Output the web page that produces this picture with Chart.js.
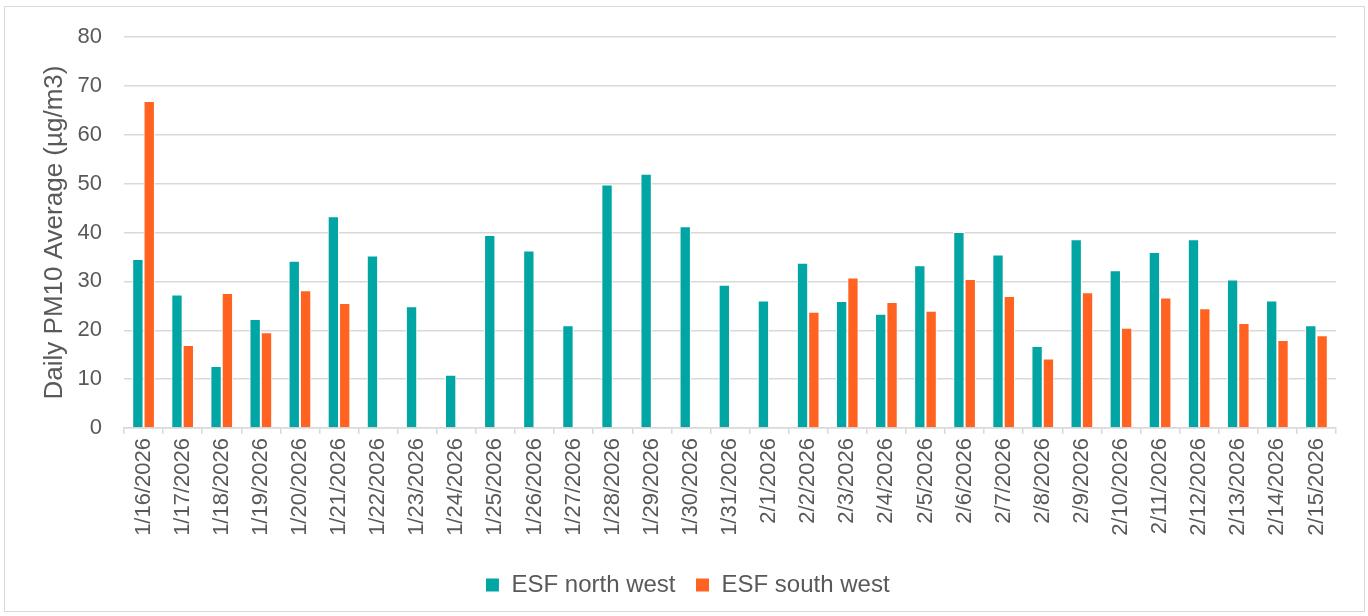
<!DOCTYPE html>
<html>
<head>
<meta charset="utf-8">
<script src="https://cdn.jsdelivr.net/npm/chart.js@4/dist/chart.umd.min.js"></script>
<style>
    body { margin: 0; background: #fff; }
    #wrap {
        position: absolute; left: 4px; top: 6px;
        width: 1359px; height: 604px;
        border: 1px solid #d9d9d9;
    }
</style>
</head>
<body>
<div id="wrap"><canvas id="pmChart" width="1359" height="604"></canvas></div>
<script>
const dates = ['1/16/2026', '1/17/2026', '1/18/2026', '1/19/2026', '1/20/2026', '1/21/2026', '1/22/2026',
    '1/23/2026', '1/24/2026', '1/25/2026', '1/26/2026', '1/27/2026', '1/28/2026', '1/29/2026', '1/30/2026',
    '1/31/2026', '2/1/2026', '2/2/2026', '2/3/2026', '2/4/2026', '2/5/2026', '2/6/2026', '2/7/2026',
    '2/8/2026', '2/9/2026', '2/10/2026', '2/11/2026', '2/12/2026', '2/13/2026', '2/14/2026', '2/15/2026'];

const northWest = [34.6, 27.3, 12.7, 22.3, 34.2, 43.3, 35.3, 24.9, 10.9, 39.5, 36.3, 21.0, 49.8, 52.0, 41.3,
    29.3, 26.1, 33.8, 26.0, 23.4, 33.3, 40.1, 35.5, 16.8, 38.6, 32.3, 36.0, 38.6, 30.4, 26.1, 21.0];

const southWest = [66.9, 17.0, 27.6, 19.6, 28.2, 25.6, null, null, null, null, null, null, null, null, null,
    null, null, 23.8, 30.8, 25.8, 24.0, 30.5, 27.0, 14.2, 27.8, 20.5, 26.7, 24.5, 21.5, 18.0, 19.0];

const yTicks = [0, 10, 20, 30, 40, 50, 60, 70, 80];

const grey = '#595959';
const lineGrey = '#d9d9d9';
Chart.defaults.font.family = '"Liberation Sans", Arial, sans-serif';
Chart.defaults.color = grey;

const ctx = document.getElementById('pmChart').getContext('2d');
const pmChart = new Chart(ctx, {
    type: 'bar',
    data: {
        labels: dates,
        datasets: [
            {
                label: 'ESF north west',
                data: northWest,
                backgroundColor: '#00a5a4',
                borderColor: '#ffffff',
                borderWidth: 1
            },
            {
                label: 'ESF south west',
                data: southWest,
                backgroundColor: '#ff6221',
                borderColor: '#ffffff',
                borderWidth: 1
            }
        ]
    },
    options: {
        responsive: false,
        animation: false,
        categoryPercentage: 0.58,
        barPercentage: 1,
        layout: { padding: { top: 30, right: 28, left: 34, bottom: 4 } },
        plugins: {
            tooltip: { enabled: false },
            legend: {
                position: 'bottom',
                labels: {
                    font: { size: 24 },
                    color: grey,
                    boxWidth: 14,
                    boxHeight: 14,
                    padding: 20
                }
            }
        },
        scales: {
            x: {
                grid: {
                    drawOnChartArea: false,
                    color: lineGrey,
                    lineWidth: 1.5,
                    tickLength: 6,
                    offset: true
                },
                border: { color: lineGrey, width: 1.5 },
                ticks: {
                    font: { size: 22 },
                    color: grey,
                    minRotation: 90,
                    maxRotation: 90,
                    autoSkip: false,
                    padding: 4
                },
                afterFit: scale => { scale.height = 125; }
            },
            y: {
                min: 0,
                max: 80,
                afterBuildTicks: scale => { scale.ticks = yTicks.map(v => ({ value: v })); },
                grid: { color: lineGrey, lineWidth: 1.5, drawTicks: false },
                border: { display: false },
                ticks: { font: { size: 22 }, color: grey, padding: 22 },
                title: {
                    display: true,
                    text: 'Daily PM10 Average (µg/m3)',
                    font: { size: 26 },
                    color: grey,
                    padding: 0
                },
                afterFit: scale => {
                    scale.width = 85;
                    scale.paddingTop = 0;
                    scale.paddingBottom = 0;
                }
            }
        }
    }
});
</script>
</body>
</html>
